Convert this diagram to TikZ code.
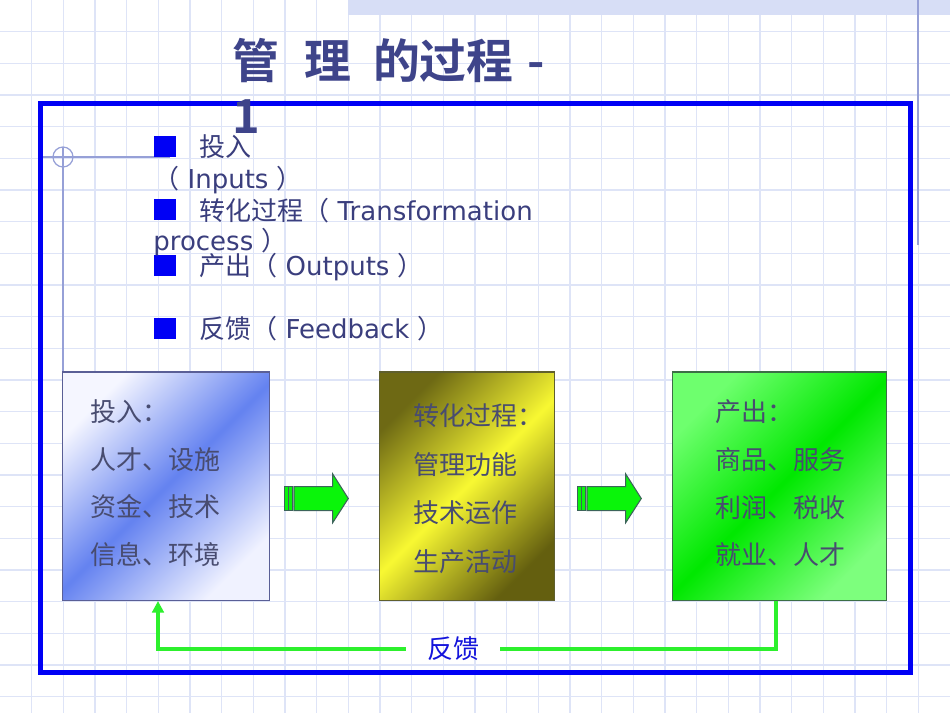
\documentclass[tikz,border=0pt]{standalone}
\usepackage{fontspec}
\setmainfont{DejaVu Sans}
\newfontfamily\cjk{Noto Sans CJK SC}
\newfontfamily\cjkbold{Noto Sans CJK SC Bold}
\usetikzlibrary{arrows.meta}
\newlength\pxl
\setlength\pxl{0.02cm}
\definecolor{gridcol}{RGB}{222,228,247}
\definecolor{bandcol}{RGB}{215,222,246}
\definecolor{decocol}{RGB}{150,160,215}
\definecolor{titlecol}{RGB}{62,68,138}
\definecolor{bultxt}{RGB}{58,62,125}
\definecolor{boxtxt}{RGB}{72,76,112}
\definecolor{framecol}{RGB}{0,0,245}
\definecolor{fbgreen}{RGB}{45,240,45}
\definecolor{arrgreen}{RGB}{10,245,10}
\definecolor{arrline}{RGB}{60,100,90}
\tikzset{
  gridline/.style={draw=gridcol, line width=0.6pt},
  boxtext/.style={anchor=west, inner sep=0pt, text=boxtxt, font=\cjk\fontsize{14.8}{18}\selectfont},
  bultext/.style={anchor=base west, inner sep=0pt, text=bultxt, font=\fontsize{14.8}{18}\selectfont},
  bulsq/.style={fill=framecol, minimum width=22\pxl, minimum height=21\pxl, inner sep=0pt},
  procbox/.style={minimum height=228.7\pxl, inner sep=0pt, line width=0.7pt},
  blockarrow/.style={fill=arrgreen, draw=arrline, line width=0.6pt},
  fbline/.style={draw=fbgreen, line width=0.08cm}
}
\begin{document}
\begin{tikzpicture}[x=0.02cm, y=-0.02cm]
  \useasboundingbox (0,0) rectangle (950,713);
  \fill[white] (0,0) rectangle (950,713);
  % paper grid
  \foreach \k in {1,...,29}
    \draw[gridline] (\k*31.667,0) -- (\k*31.667,713);
  \foreach \k in {1,...,22}
    \draw[gridline] (0,\k*31.667) -- (950,\k*31.667);
  \fill[bandcol] (348,0) rectangle (950,15);
  % template lines
  \draw[decocol, line width=0.7pt] (918,0) -- (918,245);
  \draw[decocol, line width=0.7pt] (43,157) -- (170,157);
  \draw[decocol, line width=0.7pt] (63,147) -- (63,372);
  \draw[decocol, line width=0.7pt] (63,157) circle (10);
  % frame
  \draw[framecol, line width=0.1cm] (40,103.5) rectangle (910,672.5);

  % the three stages
  \node[procbox, minimum width=206.6\pxl, draw={rgb,255:red,90;green,95;blue,150},
        top color={rgb,255:red,245;green,246;blue,255},
        bottom color={rgb,255:red,240;green,242;blue,255},
        middle color={rgb,255:red,100;green,130;blue,240}, shading angle=45] (inbox) at (166,486.4) {};
  \node[procbox, minimum width=175\pxl, draw={rgb,255:red,95;green,95;blue,45},
        top color={rgb,255:red,110;green,105;blue,20},
        bottom color={rgb,255:red,100;green,95;blue,15},
        middle color={rgb,255:red,248;green,248;blue,50}, shading angle=45] (midbox) at (467,486.4) {};
  \node[procbox, minimum width=214.3\pxl, draw={rgb,255:red,60;green,110;blue,70},
        top color={rgb,255:red,110;green,255;blue,110},
        bottom color={rgb,255:red,125;green,255;blue,125},
        middle color={rgb,255:red,0;green,232;blue,0}, shading angle=45] (outbox) at (779.7,486.4) {};

  \foreach \t [count=\i] in {投入：, 人才、设施, 资金、技术, 信息、环境}
    \node[boxtext] (in\i) at (90,{411.7+47.6*(\i-1)}) {\t};
  \foreach \t [count=\i] in {转化过程：, 管理功能, 技术运作, 生产活动}
    \node[boxtext] (mid\i) at (413.6,{415.5+48.8*(\i-1)}) {\t};
  \foreach \t [count=\i] in {产出：, 商品、服务, 利润、税收, 就业、人才}
    \node[boxtext] (out\i) at (715,{411.7+47.8*(\i-1)}) {\t};

  % block arrows between the stages
  \foreach \dx in {0,293} {
    \begin{scope}[shift={(\dx,0)}]
      \filldraw[blockarrow] (284.3,486.7) rectangle (288.3,510.7);
      \filldraw[blockarrow] (288.3,486.7) rectangle (292.3,510.7);
      \filldraw[blockarrow] (294,486.7) -- (332.7,486.7) -- (332.7,474)
        -- (348.3,498.5) -- (332.7,522.7) -- (332.7,510.7) -- (294,510.7) -- cycle;
    \end{scope}
  }

  % feedback loop
  \coordinate (fbR) at (776,601);
  \coordinate (fbL) at (158,601);
  \node[inner xsep=21\pxl, inner ysep=0pt, text={rgb,255:red,20;green,20;blue,220},
        font=\cjk\fontsize{14.8}{18}\selectfont] (fb) at (453,649) {反馈};
  \draw[fbline] (fbR) |- (fb.east);
  \draw[fbline, -{Triangle[length=2.3mm, width=2.3mm]}] (fb.west) -| (fbL);

  % bullet list
  \foreach \y [count=\i] in {146.5, 209.5, 265.5, 328.5}
    \node[bulsq] (sq\i) at (165,\y) {};
  \node[bultext] (b1) at (199,156) {\cjk 投入};
  \node[bultext] (b2) at (153,188) {{\cjk （} Inputs {\cjk ）}};
  \node[bultext] (b3) at (199,220) {{\cjk 转化过程（} Transformation};
  \node[bultext] (b4) at (153,250) {process {\cjk ）}};
  \node[bultext] (b5) at (199,275) {{\cjk 产出（} Outputs {\cjk ）}};
  \node[bultext] (b6) at (199,338) {{\cjk 反馈（} Feedback {\cjk ）}};

  % title
  \node[anchor=base west, inner sep=0pt, text=titlecol, font=\cjkbold\fontsize{26.7}{30}\selectfont]
    (title) at (232,79) {管\hspace{0.53em}理\hspace{0.47em}的过程\hspace{0.3em}-};
  \node[anchor=base west, inner sep=0pt, text=titlecol, font=\cjkbold\fontsize{26.7}{30}\selectfont]
    (title2) at (232,133) {1};
\end{tikzpicture}
\end{document}
